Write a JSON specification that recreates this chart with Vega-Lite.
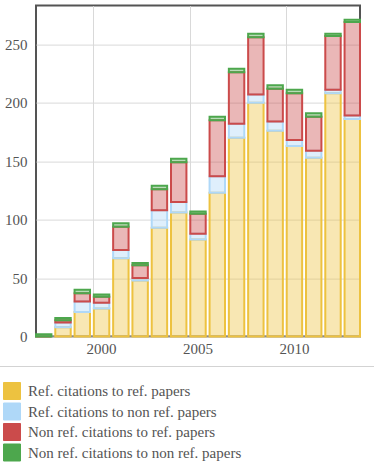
{
  "$schema": "https://vega.github.io/schema/vega-lite/v6.json",
  "width": 324,
  "height": 331,
  "autosize": {"type": "none"},
  "padding": {"left": 36, "top": 5.6, "right": 14, "bottom": 134.4},
  "background": "white",
  "config": {
    "view": {"stroke": "#545454", "strokeWidth": 2},
    "font": "Times New Roman, Liberation Serif, DejaVu Serif, Noto Serif, FreeSerif, serif",
    "axis": {
      "labelFont": "Times New Roman, Liberation Serif, DejaVu Serif, Noto Serif, FreeSerif, serif",
      "labelFontSize": 15,
      "labelColor": "#545454",
      "domain": false,
      "ticks": false,
      "gridColor": "#d9d9d9",
      "gridOpacity": 1,
      "gridWidth": 1,
      "title": null
    },
    "legend": {
      "labelFont": "Times New Roman, Liberation Serif, DejaVu Serif, Noto Serif, FreeSerif, serif",
      "titleFont": "Times New Roman, Liberation Serif, DejaVu Serif, Noto Serif, FreeSerif, serif"
    }
  },
  "data": {
    "values": [
      {"year": 1997, "series": "Ref. citations to ref. papers", "n": 0},
      {"year": 1997, "series": "Ref. citations to non ref. papers", "n": 0},
      {"year": 1997, "series": "Non ref. citations to ref. papers", "n": 0},
      {"year": 1997, "series": "Non ref. citations to non ref. papers", "n": 2},
      {"year": 1998, "series": "Ref. citations to ref. papers", "n": 8},
      {"year": 1998, "series": "Ref. citations to non ref. papers", "n": 4},
      {"year": 1998, "series": "Non ref. citations to ref. papers", "n": 2},
      {"year": 1998, "series": "Non ref. citations to non ref. papers", "n": 2},
      {"year": 1999, "series": "Ref. citations to ref. papers", "n": 21},
      {"year": 1999, "series": "Ref. citations to non ref. papers", "n": 9},
      {"year": 1999, "series": "Non ref. citations to ref. papers", "n": 7},
      {"year": 1999, "series": "Non ref. citations to non ref. papers", "n": 3},
      {"year": 2000, "series": "Ref. citations to ref. papers", "n": 24},
      {"year": 2000, "series": "Ref. citations to non ref. papers", "n": 5},
      {"year": 2000, "series": "Non ref. citations to ref. papers", "n": 5},
      {"year": 2000, "series": "Non ref. citations to non ref. papers", "n": 2},
      {"year": 2001, "series": "Ref. citations to ref. papers", "n": 67},
      {"year": 2001, "series": "Ref. citations to non ref. papers", "n": 7},
      {"year": 2001, "series": "Non ref. citations to ref. papers", "n": 20},
      {"year": 2001, "series": "Non ref. citations to non ref. papers", "n": 3},
      {"year": 2002, "series": "Ref. citations to ref. papers", "n": 48},
      {"year": 2002, "series": "Ref. citations to non ref. papers", "n": 2},
      {"year": 2002, "series": "Non ref. citations to ref. papers", "n": 11},
      {"year": 2002, "series": "Non ref. citations to non ref. papers", "n": 2},
      {"year": 2003, "series": "Ref. citations to ref. papers", "n": 93},
      {"year": 2003, "series": "Ref. citations to non ref. papers", "n": 15},
      {"year": 2003, "series": "Non ref. citations to ref. papers", "n": 18},
      {"year": 2003, "series": "Non ref. citations to non ref. papers", "n": 3},
      {"year": 2004, "series": "Ref. citations to ref. papers", "n": 106},
      {"year": 2004, "series": "Ref. citations to non ref. papers", "n": 9},
      {"year": 2004, "series": "Non ref. citations to ref. papers", "n": 34},
      {"year": 2004, "series": "Non ref. citations to non ref. papers", "n": 3},
      {"year": 2005, "series": "Ref. citations to ref. papers", "n": 83},
      {"year": 2005, "series": "Ref. citations to non ref. papers", "n": 5},
      {"year": 2005, "series": "Non ref. citations to ref. papers", "n": 17},
      {"year": 2005, "series": "Non ref. citations to non ref. papers", "n": 2},
      {"year": 2006, "series": "Ref. citations to ref. papers", "n": 123},
      {"year": 2006, "series": "Ref. citations to non ref. papers", "n": 14},
      {"year": 2006, "series": "Non ref. citations to ref. papers", "n": 48},
      {"year": 2006, "series": "Non ref. citations to non ref. papers", "n": 3},
      {"year": 2007, "series": "Ref. citations to ref. papers", "n": 170},
      {"year": 2007, "series": "Ref. citations to non ref. papers", "n": 12},
      {"year": 2007, "series": "Non ref. citations to ref. papers", "n": 44},
      {"year": 2007, "series": "Non ref. citations to non ref. papers", "n": 3},
      {"year": 2008, "series": "Ref. citations to ref. papers", "n": 200},
      {"year": 2008, "series": "Ref. citations to non ref. papers", "n": 7},
      {"year": 2008, "series": "Non ref. citations to ref. papers", "n": 49},
      {"year": 2008, "series": "Non ref. citations to non ref. papers", "n": 3},
      {"year": 2009, "series": "Ref. citations to ref. papers", "n": 176},
      {"year": 2009, "series": "Ref. citations to non ref. papers", "n": 8},
      {"year": 2009, "series": "Non ref. citations to ref. papers", "n": 28},
      {"year": 2009, "series": "Non ref. citations to non ref. papers", "n": 3},
      {"year": 2010, "series": "Ref. citations to ref. papers", "n": 163},
      {"year": 2010, "series": "Ref. citations to non ref. papers", "n": 5},
      {"year": 2010, "series": "Non ref. citations to ref. papers", "n": 40},
      {"year": 2010, "series": "Non ref. citations to non ref. papers", "n": 3},
      {"year": 2011, "series": "Ref. citations to ref. papers", "n": 153},
      {"year": 2011, "series": "Ref. citations to non ref. papers", "n": 6},
      {"year": 2011, "series": "Non ref. citations to ref. papers", "n": 29},
      {"year": 2011, "series": "Non ref. citations to non ref. papers", "n": 3},
      {"year": 2012, "series": "Ref. citations to ref. papers", "n": 208},
      {"year": 2012, "series": "Ref. citations to non ref. papers", "n": 3},
      {"year": 2012, "series": "Non ref. citations to ref. papers", "n": 46},
      {"year": 2012, "series": "Non ref. citations to non ref. papers", "n": 2},
      {"year": 2013, "series": "Ref. citations to ref. papers", "n": 186},
      {"year": 2013, "series": "Ref. citations to non ref. papers", "n": 3},
      {"year": 2013, "series": "Non ref. citations to ref. papers", "n": 80},
      {"year": 2013, "series": "Non ref. citations to non ref. papers", "n": 2}
    ]
  },
  "mark": {"type": "bar", "fillOpacity": 0.4, "strokeWidth": 2},
  "encoding": {
    "x": {
      "field": "year",
      "type": "ordinal",
      "scale": {"paddingInner": 0.2, "paddingOuter": 0},
      "axis": {
        "values": [2000, 2005, 2010],
        "bandPosition": 0,
        "labelAngle": 0,
        "labelPadding": 5,
        "grid": true
      }
    },
    "y": {
      "field": "n",
      "type": "quantitative",
      "stack": "zero",
      "scale": {"domain": [0, 283], "nice": false},
      "axis": {"values": [0, 50, 100, 150, 200, 250], "labelPadding": 9, "grid": true}
    },
    "color": {
      "field": "series",
      "type": "nominal",
      "scale": {
        "domain": ["Ref. citations to ref. papers", "Ref. citations to non ref. papers", "Non ref. citations to ref. papers", "Non ref. citations to non ref. papers"],
        "range": ["#edc240", "#afd8f8", "#cb4b4b", "#4da74d"]
      },
      "legend": {
        "orient": "none",
        "legendX": -49,
        "legendY": 360.4,
        "padding": 16,
        "strokeColor": "#d3d3d3",
        "title": "\u00a0",
        "titleOrient": "right",
        "titleAngle": 0,
        "titlePadding": 140,
        "symbolType": "square",
        "symbolSize": 289,
        "symbolStrokeColor": "#cccccc",
        "symbolStrokeWidth": 1,
        "symbolOpacity": 1,
        "labelFont": "Times New Roman, Liberation Serif, DejaVu Serif, Noto Serif, FreeSerif, serif",
        "labelFontSize": 15,
        "labelColor": "#545454",
        "labelOffset": 7,
        "labelLimit": 400,
        "rowPadding": -1.5
      }
    },
    "stroke": {
      "field": "series",
      "type": "nominal",
      "scale": {
        "domain": ["Ref. citations to ref. papers", "Ref. citations to non ref. papers", "Non ref. citations to ref. papers", "Non ref. citations to non ref. papers"],
        "range": ["#edc240", "#afd8f8", "#cb4b4b", "#4da74d"]
      },
      "legend": null
    },
    "order": {"field": "series", "sort": "descending"}
  }
}
